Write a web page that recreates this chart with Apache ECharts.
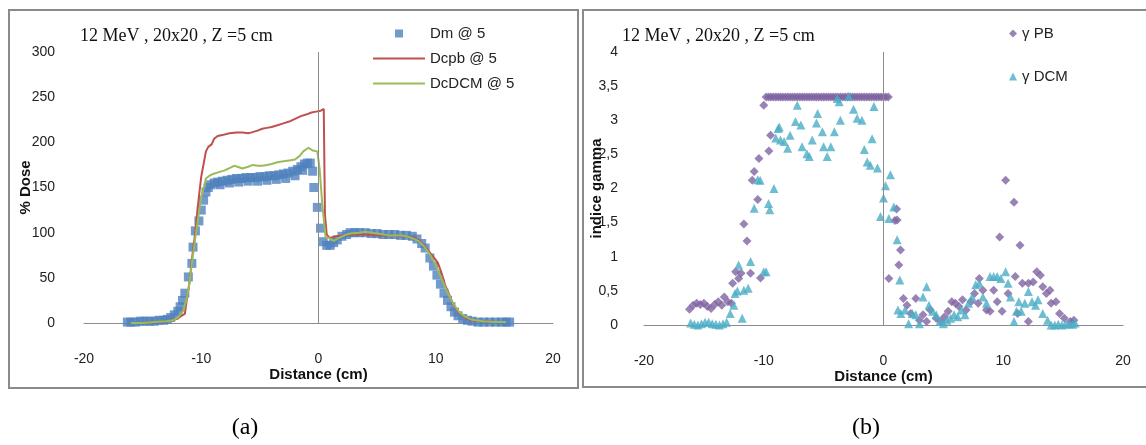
<!DOCTYPE html>
<html>
<head>
<meta charset="utf-8">
<script src="https://cdn.jsdelivr.net/npm/echarts@6/dist/echarts.min.js"></script>
<style>
html,body{margin:0;padding:0;background:#fff;}
#c{width:1146px;height:445px;}
</style>
</head>
<body>
<div id="c"></div>
<script>
// ---- Panel (a): % Dose ----
const dmX = [-16.3,-16.0,-15.6,-15.2,-14.8,-14.4,-14.0,-13.6,-13.2,-12.9,-12.6,-12.3,-12.0,-11.8,-11.6,-11.4,-11.1,-10.8,-10.7,-10.5,-10.2,-10.0,-9.8,-9.6,-9.4,-9.2,-8.9,-8.6,-8.2,-7.8,-7.4,-7.0,-6.6,-6.2,-5.8,-5.4,-5.0,-4.6,-4.2,-3.8,-3.4,-3.0,-2.6,-2.2,-1.8,-1.5,-1.2,-0.95,-0.7,-0.5,-0.4,-0.1,0.17,0.4,0.7,1.0,1.3,1.6,2.0,2.4,2.7,3.1,3.5,4.0,4.5,5.0,5.5,6.0,6.5,7.0,7.5,8.0,8.4,8.8,9.1,9.5,9.8,10.1,10.4,10.7,11.0,11.3,11.6,11.9,12.3,12.7,13.1,13.6,14.1,14.6,15.1,15.6,16.0,16.3,
  -8.4,-7.6,-6.8,-6.0,-5.2,-4.4,-3.6,-2.8,-2.0,-1.35];
const dmY = [1,1,1,2,2,2,2,3,3,4,6,9,13,18,25,33,51,66,84,102,113,125,136,145,150,153,155,156,157,158,159,160,160,161,161,161,162,162,163,163,164,165,166,168,170,173,176,177,177,168,150,128,105,90,86,86,89,92,96,98,100,100,100,100,99,99,98,98,98,97,97,96,93,88,83,72,63,53,43,33,25,18,12,8,5,3,2,1,1,1,1,1,1,1,
  153,155,156,157,157,158,159,160,163,169];

const pbLineX = [-16.0,-15.0,-14.0,-13.0,-12.5,-12.0,-11.8,-11.4,-11.2,-11.0,-10.8,-10.5,-10.2,-10.0,-9.8,-9.6,-9.4,-9.1,-8.9,-8.6,-8.2,-7.6,-7.0,-6.5,-6.0,-5.7,-5.2,-4.8,-4.4,-4.0,-3.5,-3.0,-2.5,-2.0,-1.5,-1.0,-0.6,-0.2,0.2,0.45,0.55,0.7,0.95,1.5,2.0,3.0,4.0,5.0,6.0,7.0,7.5,8.0,8.5,9.0,9.5,10.0,10.2,10.5,10.8,11.1,11.5,12.0,12.5,13.0,14.0,15.0,16.0];
const pbLineY = [0,0,1,2,3,5,7,10,29,45,70,102,140,162,176,190,195,198,204,207,208,210,211,211,210,211,213,215,216,217,219,221,223,226,229,231,233,234,235,237,120,98,94,96,97,98,98,97,97,96,96,95,92,86,78,70,66,55,42,33,20,11,6,3,2,1,1];

const dcmLineX = [-16.0,-15.0,-14.0,-13.0,-12.4,-12.0,-11.5,-11.2,-11.0,-10.8,-10.5,-10.2,-10.0,-9.8,-9.6,-9.3,-9.0,-8.5,-8.0,-7.5,-7.2,-6.9,-6.5,-6.0,-5.6,-5.2,-4.8,-4.4,-4.0,-3.5,-3.0,-2.5,-2.0,-1.6,-1.3,-0.85,-0.5,-0.1,0.1,0.3,0.6,0.9,1.3,1.7,2.2,2.7,3.5,4.0,4.5,5.0,6.0,7.0,7.5,8.0,8.5,9.0,9.5,10.0,10.5,11.0,11.5,12.0,12.5,13.0,14.0,15.0,16.0];
const dcmLineY = [0,0,1,2,3,6,14,30,45,66,95,122,140,149,160,163,165,167,169,172,174,173,171,173,175,174,174,175,176,178,179,180,181,185,190,194,191,190,170,135,95,94,91,94,97,99,100,101,100,99,97,97,96,94,91,85,76,64,49,34,21,12,7,4,2,1,1];

const doseTicks = [0,50,100,150,200,250,300];

// ---- Panel (b): gamma index ----
const gPbX = [-16.2,-15.9,-15.6,-15.3,-15.0,-14.7,-14.4,-14.1,-13.8,-13.5,-13.3,-13.0,-12.7,-12.6,-12.35,-12.1,-11.9,-11.66,-11.4,-11.1,-10.96,-10.8,-10.5,-10.4,-10.27,-10.0,-9.57,-9.43,
  -9.8,-9.6,-9.4,-9.2,-9.0,-8.8,-8.6,-8.4,-8.2,-8.0,-7.8,-7.6,-7.4,-7.2,-7.0,-6.8,-6.6,-6.4,-6.2,-6.0,-5.8,-5.6,-5.4,-5.2,-5.0,-4.8,-4.6,-4.4,-4.2,-4.0,-3.8,-3.6,-3.4,-3.2,-3.0,-2.8,-2.6,-2.4,-2.2,-2.0,-1.8,-1.6,-1.4,-1.2,-1.0,-0.8,-0.6,-0.4,-0.2,0.0,0.2,0.4,
  0.45,0.95,1.09,1.14,1.28,1.42,1.66,1.96,2.27,2.7,3.0,3.3,3.6,3.9,4.4,4.8,5.1,5.4,5.7,6.0,6.3,6.6,6.9,7.3,7.6,7.9,8.0,8.3,8.6,8.9,9.2,9.5,9.7,9.9,10.2,10.4,10.9,11.0,11.2,11.4,11.6,12.1,12.1,12.5,12.8,13.1,13.3,13.6,13.9,14.0,14.4,14.7,15.1,15.6,15.9];
const gPbY = [0.23,0.29,0.32,0.30,0.32,0.27,0.24,0.30,0.34,0.29,0.41,0.34,0.32,0.61,0.78,0.68,0.76,1.48,1.23,0.76,2.12,2.25,1.84,2.44,0.69,3.22,2.55,2.78,
  3.34,3.34,3.34,3.34,3.34,3.34,3.34,3.34,3.34,3.34,3.34,3.34,3.34,3.34,3.34,3.34,3.34,3.34,3.34,3.34,3.34,3.34,3.34,3.34,3.34,3.34,3.34,3.34,3.34,3.34,3.34,3.34,3.34,3.34,3.34,3.34,3.34,3.34,3.34,3.34,3.34,3.34,3.34,3.34,3.34,3.34,3.34,3.34,3.34,3.34,3.34,3.34,
  0.68,1.53,1.70,1.54,0.88,1.10,0.39,0.29,0.17,0.39,0.07,0.15,0.05,0.22,0.10,0.05,0.12,0.20,0.34,0.32,0.27,0.37,0.22,0.34,0.46,0.32,0.68,0.51,0.22,0.20,0.51,0.34,1.29,0.20,2.12,0.46,1.80,0.71,0.17,1.17,0.61,0.05,0.61,0.63,0.78,0.73,0.56,0.46,0.51,0.32,0.34,0.17,0.10,0.05,0.07];

const gDcmX = [-16.1,-15.8,-15.5,-15.2,-14.9,-14.6,-14.3,-14.0,-13.7,-13.4,-13.1,-12.8,-12.5,-12.4,-12.2,-12.1,-11.8,-11.66,-11.3,-11.1,-10.8,-10.5,-10.3,-10.0,-9.8,-9.6,-9.5,-9.15,-9.0,-8.8,-8.7,-8.6,-8.3,-8.0,-7.8,-7.35,-7.2,-6.9,-6.8,-6.4,-6.2,-5.95,-5.6,-5.5,-5.1,-5.0,-4.7,-4.4,-4.1,-3.86,-3.7,-3.6,-2.9,-2.5,-2.2,-1.8,-1.6,-1.36,-1.1,-0.95,-0.8,-0.5,-0.25,0.0,0.17,0.45,0.58,0.86,1.14,1.36,1.2,1.45,1.8,2.1,2.4,2.7,3.0,3.3,3.6,3.8,4.1,4.4,4.7,5.0,5.3,5.6,5.9,6.2,6.5,6.8,7.1,7.4,7.7,8.0,8.3,8.6,8.9,9.2,9.5,9.8,10.2,10.4,10.6,10.9,11.1,11.3,11.5,11.8,12.1,12.4,12.7,12.9,13.3,13.7,14.0,14.3,14.6,14.9,15.2,15.5,15.8,16.0];
const gDcmY = [0.03,0.01,0.00,0.02,0.04,0.04,0.02,0.01,0.00,0.02,0.04,0.17,0.29,0.46,0.50,0.88,0.10,0.51,0.54,0.93,1.71,2.13,2.12,0.78,0.78,1.78,1.69,2.00,2.74,2.88,2.90,2.71,2.69,2.59,2.78,2.98,3.22,2.93,2.61,2.51,2.47,2.71,2.96,3.10,2.83,2.61,2.47,2.61,2.83,3.32,3.27,3.00,3.35,3.16,3.03,3.00,2.57,2.39,2.34,2.73,3.20,2.30,1.59,1.86,2.04,1.56,2.20,1.73,1.25,0.66,0.22,0.17,0.22,0.02,0.17,0.15,0.02,0.41,0.56,0.29,0.20,0.15,0.05,0.02,0.07,0.10,0.15,0.12,0.22,0.15,0.32,0.41,0.59,0.61,0.41,0.32,0.71,0.71,0.71,0.68,0.78,0.61,0.41,0.05,0.20,0.34,0.20,0.32,0.49,0.34,0.29,0.37,0.17,0.07,0.00,0.00,0.01,0.00,0.01,0.02,0.01,0.03];

const gammaTicks = [0,0.5,1,1.5,2,2.5,3,3.5,4];
const distTicks = [-20,-10,0,10,20];

const pairs = (xs, ys) => xs.map((x, i) => [x, ys[i]]);

const sans = '"Liberation Sans", Arial, sans-serif';
const serif = '"Liberation Serif", "Times New Roman", serif';
const axisGray = '#8c8c8c';
const txt = '#222';

const chart = echarts.init(document.getElementById('c'), null, {renderer: 'canvas'});

function xAxisCfg(gi) {
  return {
    gridIndex: gi, type: 'value', min: distTicks[0], max: distTicks[distTicks.length - 1], interval: 10,
    axisLine: {onZero: false, lineStyle: {color: axisGray, width: 1}},
    axisTick: {show: false}, splitLine: {show: false},
    axisLabel: {margin: 29, fontFamily: sans, fontSize: 14, color: txt},
    name: 'Distance (cm)', nameLocation: 'middle', nameGap: 44, nameMoveOverlap: false,
    nameTextStyle: {fontFamily: sans, fontSize: 15, fontWeight: 'bold', color: '#111'}
  };
}

const vline = {
  silent: true, symbol: 'none', label: {show: false},
  lineStyle: {color: axisGray, width: 1, type: 'solid'},
  emphasis: {disabled: true},
  data: [{xAxis: 0}]
};

const lineIcon = 'path://M0,0L0,0.01M0,8L0,8.01M0,3h52v2h-52z';

const option = {
  animation: false,
  backgroundColor: '#fff',
  title: [
    {text: '12 MeV , 20x20 , Z =5 cm', left: 80, top: 27, padding: 0, textStyle: {fontFamily: serif, fontSize: 18, fontWeight: 'normal', color: '#111'}},
    {text: '12 MeV , 20x20 , Z =5 cm', left: 622, top: 27, padding: 0, textStyle: {fontFamily: serif, fontSize: 18, fontWeight: 'normal', color: '#111'}}
  ],
  legend: [
    {
      orient: 'vertical', left: 373, top: 26, padding: 0, itemWidth: 52, itemHeight: 8, itemGap: 10,
      textStyle: {fontFamily: sans, fontSize: 15, color: txt},
      selectedMode: false,
      data: [
        {name: 'Dm @ 5', icon: 'path://M0,0L0,0.01M52,0L52,0.01M22,0h8v8h-8z'},
        {name: 'Dcpb @ 5', icon: lineIcon},
        {name: 'DcDCM @ 5', icon: lineIcon}
      ]
    },
    {
      orient: 'vertical', left: 1009, top: 26, padding: 0, itemWidth: 8, itemHeight: 8, itemGap: 28,
      textStyle: {fontFamily: sans, fontSize: 15, color: txt},
      selectedMode: false,
      data: ['γ PB', 'γ DCM']
    }
  ],
  grid: [
    {left: 84, top: 52, width: 469, height: 271},
    {left: 644, top: 52, width: 479, height: 273}
  ],
  xAxis: [xAxisCfg(0), xAxisCfg(1)],
  yAxis: [
    {
      gridIndex: 0, type: 'value', min: doseTicks[0], max: doseTicks[doseTicks.length - 1], interval: 50,
      axisLine: {show: false, onZero: false}, axisTick: {show: false}, splitLine: {show: false},
      axisLabel: {margin: 29, fontFamily: sans, fontSize: 14, color: txt},
      name: '% Dose', nameLocation: 'middle', nameGap: 51, nameMoveOverlap: false,
      nameTextStyle: {fontFamily: sans, fontSize: 15, fontWeight: 'bold', color: '#111'}
    },
    {
      gridIndex: 1, type: 'value', min: gammaTicks[0], max: gammaTicks[gammaTicks.length - 1], interval: 0.5,
      axisLine: {show: false, onZero: false}, axisTick: {show: false}, splitLine: {show: false},
      axisLabel: {margin: 26, fontFamily: sans, fontSize: 14, color: txt, formatter: v => String(v).replace('.', ',')},
      name: 'indice gamma', nameLocation: 'middle', nameGap: 40, nameMoveOverlap: false,
      nameTextStyle: {fontFamily: sans, fontSize: 15, fontWeight: 'bold', color: '#111'}
    }
  ],
  series: [
    {
      name: 'Dm @ 5', type: 'scatter', xAxisIndex: 0, yAxisIndex: 0,
      symbol: 'rect', symbolSize: 9, itemStyle: {color: '#4F81BD'},
      data: pairs(dmX, dmY), markLine: vline
    },
    {
      name: 'Dcpb @ 5', type: 'line', xAxisIndex: 0, yAxisIndex: 0,
      symbol: 'none', lineStyle: {color: '#C0504D', width: 2}, itemStyle: {color: '#C0504D'},
      data: pairs(pbLineX, pbLineY)
    },
    {
      name: 'DcDCM @ 5', type: 'line', xAxisIndex: 0, yAxisIndex: 0,
      symbol: 'none', lineStyle: {color: '#9BBB59', width: 2}, itemStyle: {color: '#9BBB59'},
      data: pairs(dcmLineX, dcmLineY)
    },
    {
      name: 'γ PB', type: 'scatter', xAxisIndex: 1, yAxisIndex: 1,
      symbol: 'diamond', symbolSize: 9, itemStyle: {color: '#8064A2'},
      data: pairs(gPbX, gPbY), markLine: vline
    },
    {
      name: 'γ DCM', type: 'scatter', xAxisIndex: 1, yAxisIndex: 1,
      symbol: 'triangle', symbolSize: 9, itemStyle: {color: '#4BACC6'},
      data: pairs(gDcmX, gDcmY)
    }
  ],
  graphic: [
    {type: 'rect', silent: true, z: -1, shape: {x: 9, y: 10, width: 569, height: 378}, style: {fill: 'none', stroke: '#8a8a8a', lineWidth: 2}},
    {type: 'rect', silent: true, z: -1, shape: {x: 583, y: 10, width: 564, height: 377}, style: {fill: 'none', stroke: '#8a8a8a', lineWidth: 2}},
    {type: 'text', silent: true, x: 245, y: 428, style: {text: '(a)', font: '24px ' + serif, fill: '#000', textAlign: 'center', textVerticalAlign: 'middle'}},
    {type: 'text', silent: true, x: 866, y: 428, style: {text: '(b)', font: '24px ' + serif, fill: '#000', textAlign: 'center', textVerticalAlign: 'middle'}}
  ]
};

chart.setOption(option);
</script>
</body>
</html>
